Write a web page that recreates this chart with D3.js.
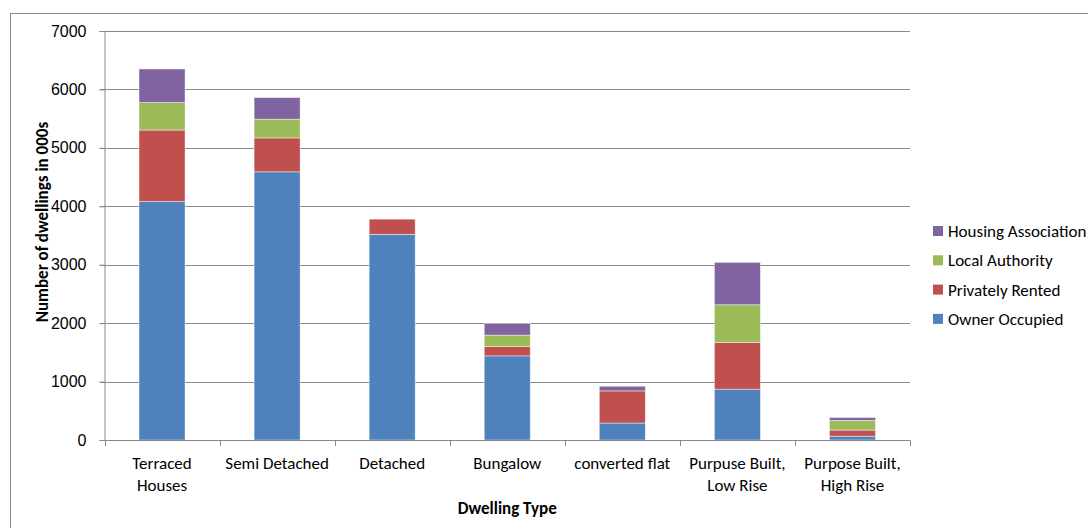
<!DOCTYPE html>
<html>
<head>
<meta charset="utf-8">
<script src="https://cdn.jsdelivr.net/npm/d3@7"></script>
<style>
  html, body { margin: 0; padding: 0; background: #fff; }
  svg { display: block; font-family: Carlito, Calibri, "Liberation Sans Narrow", "Open Sans", sans-serif; }
</style>
</head>
<body>
<svg id="chart" width="1088" height="528"></svg>
<script>
// Dwelling stock by type and tenure (thousands)
const categories = [
  ["Terraced", "Houses"],
  ["Semi Detached"],
  ["Detached"],
  ["Bungalow"],
  ["converted flat"],
  ["Purpuse Built,", "Low Rise"],
  ["Purpose Built,", "High Rise"]
];
const ownerOccupied      = [4080, 4590, 3520, 1440, 290, 870, 65];
const privatelyRented    = [1225, 580, 260, 160, 550, 800, 105];
const localAuthority     = [470, 320, 0, 195, 0, 645, 165];
const housingAssociation = [575, 370, 0, 200, 80, 725, 50];

const seriesNames  = ["Owner Occupied", "Privately Rented", "Local Authority", "Housing Association"];
const seriesColors = ["#4F81BD", "#C0504D", "#9BBB59", "#8064A2"];
const yTicks = [0, 1000, 2000, 3000, 4000, 5000, 6000, 7000];

const seriesValues = [ownerOccupied, privatelyRented, localAuthority, housingAssociation];
const rows = categories.map((c, i) => {
  const r = { key: c.join(" ") };
  seriesNames.forEach((s, j) => { r[s] = seriesValues[j][i]; });
  return r;
});

const svg = d3.select("#chart");
const plot = { left: 104.5, right: 910, top: 31, bottom: 440 };

// chart frame
svg.append("rect")
  .attr("x", 10.5).attr("y", 13.5)
  .attr("width", 1100).attr("height", 540)
  .attr("fill", "none").attr("stroke", "#8c8c8c").attr("stroke-width", 1);

const x = d3.scaleBand()
  .domain(rows.map(r => r.key))
  .range([plot.left, plot.right])
  .paddingInner(0.6).paddingOuter(0.3);

const y = d3.scaleLinear().domain([0, 7000]).range([plot.bottom, plot.top]);

// gridlines
svg.append("g")
  .selectAll("line")
  .data(yTicks.filter(t => t > 0))
  .join("line")
  .attr("x1", plot.left - 5).attr("x2", plot.right)
  .attr("y1", d => Math.round(y(d)) + 0.5).attr("y2", d => Math.round(y(d)) + 0.5)
  .attr("stroke", "#8a8a8a").attr("stroke-width", 1);

// stacked bars
const stack = d3.stack().keys(seriesNames);
const layers = stack(rows);
svg.append("g")
  .selectAll("g")
  .data(layers)
  .join("g")
  .attr("fill", (d, i) => seriesColors[i])
  .selectAll("rect")
  .data(d => d.filter(p => p[1] - p[0] > 0))
  .join("rect")
  .attr("x", d => x(d.data.key))
  .attr("width", x.bandwidth())
  .attr("y", d => y(d[1]))
  .attr("height", d => y(d[0]) - y(d[1]))
  .attr("stroke", "rgba(255,255,255,0.55)")
  .attr("stroke-width", 0.8);

// y axis
const yAxis = svg.append("g")
  .attr("transform", `translate(${plot.left},0)`)
  .call(d3.axisLeft(y).tickValues(yTicks).tickSize(5).tickPadding(13).tickFormat(d3.format("d")));
yAxis.select(".domain").attr("stroke", "#8a8a8a");
yAxis.selectAll(".tick line").attr("stroke", "#8a8a8a");
yAxis.selectAll("text").attr("font-size", 16).attr("fill", "#000").style("font-family", "inherit");

// x axis
const boundaries = d3.range(categories.length + 1).map(i => plot.left + i * (plot.right - plot.left) / categories.length);
svg.append("line")
  .attr("x1", plot.left).attr("x2", plot.right)
  .attr("y1", plot.bottom + 0.5).attr("y2", plot.bottom + 0.5)
  .attr("stroke", "#8a8a8a");
svg.append("g").selectAll("line")
  .data(boundaries)
  .join("line")
  .attr("x1", d => Math.round(d) + 0.5).attr("x2", d => Math.round(d) + 0.5)
  .attr("y1", plot.bottom).attr("y2", plot.bottom + 6)
  .attr("stroke", "#8a8a8a");

const labels = svg.append("g").selectAll("text")
  .data(rows)
  .join("text")
  .attr("text-anchor", "middle")
  .attr("font-size", 17)
  .attr("fill", "#000")
  .attr("transform", d => `translate(${x(d.key) + x.bandwidth() / 2},469)`);
labels.selectAll("tspan")
  .data((d, i) => categories[i])
  .join("tspan")
  .attr("x", 0)
  .attr("dy", (d, i) => i === 0 ? 0 : 22)
  .text(d => d);

// axis titles
svg.append("text")
  .attr("x", (plot.left + plot.right) / 2).attr("y", 514)
  .attr("text-anchor", "middle").attr("font-size", 17).attr("font-weight", "bold")
  .text("Dwelling Type");
svg.append("text")
  .attr("transform", "translate(48,222) rotate(-90)")
  .attr("text-anchor", "middle").attr("font-size", 17).attr("font-weight", "bold")
  .text("Number of dwellings in 000s");

// legend (top entry is the top of the stack)
const legend = svg.append("g").selectAll("g")
  .data(seriesNames.map((n, i) => ({ n, c: seriesColors[i] })).reverse())
  .join("g")
  .attr("transform", (d, i) => `translate(933,${231 + i * 29.3})`);
legend.append("rect")
  .attr("y", -5)
  .attr("width", 10).attr("height", 10)
  .attr("fill", d => d.c);
legend.append("text")
  .attr("x", 15).attr("y", 6)
  .attr("font-size", 17).attr("fill", "#000")
  .text(d => d.n);
</script>
</body>
</html>
